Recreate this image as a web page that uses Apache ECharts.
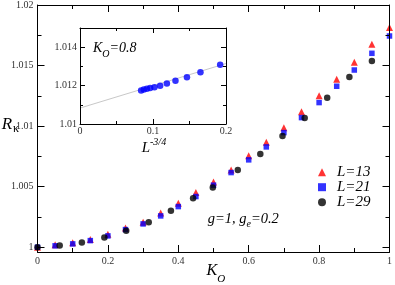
<!DOCTYPE html>
<html><head><meta charset="utf-8">
<script src="https://cdn.jsdelivr.net/npm/echarts@6/dist/echarts.min.js"></script>
<style>html,body{margin:0;padding:0;background:#fff}#c{width:395px;height:285px}</style>
</head><body><div id="c"></div>
<script>
// ---- main panel data ----
const kO_13 = [0,0.05,0.1,0.15,0.2,0.25,0.3,0.35,0.4,0.45,0.5,0.55,0.6,0.65,0.7,0.75,0.8,0.85,0.9,0.95,1.0];
const R_13  = [1.0,1.00019,1.00037,1.00064,1.00106,1.00159,1.00206,1.00283,1.00363,1.00451,1.00539,1.00638,1.00754,1.00867,1.00987,1.01119,1.01251,1.01387,1.01527,1.01676,1.01814];
const kO_21 = [0,0.05,0.1,0.15,0.2,0.25,0.3,0.35,0.4,0.45,0.5,0.55,0.6,0.65,0.7,0.75,0.8,0.85,0.9,0.95,1.0];
const R_21  = [1.0,1.00011,1.00027,1.00054,1.00093,1.00145,1.00192,1.00258,1.00335,1.00418,1.00512,1.00616,1.00721,1.00828,1.00946,1.0107,1.01194,1.01329,1.01463,1.01601,1.01744];
const kO_29 = [0,0.063,0.126,0.19,0.252,0.316,0.379,0.442,0.498,0.569,0.633,0.696,0.759,0.823,0.886,0.95];
const R_29  = [1.0,1.00013,1.00038,1.00079,1.00135,1.00206,1.003,1.00404,1.00492,1.00638,1.0077,1.00919,1.01067,1.01235,1.01405,1.01538];
const seriesNames = ['L=13','L=21','L=29'];
// ---- inset data (K_O = 0.8) ----
const invL = [0.0837,0.0874,0.0916,0.0961,0.102,0.1098,0.119,0.1308,0.1465,0.165,0.192];
const R_inset = [1.01175,1.0118,1.01183,1.01187,1.01192,1.01199,1.01211,1.01225,1.01244,1.01269,1.01308];
const fitX = [0, 0.2];
const fitY = [1.01083, 1.01315];
// ---- ticks ----
const mainXMajor = [0,0.2,0.4,0.6,0.8,1];
const mainXMinor = [0.1,0.3,0.5,0.7,0.9];
const mainYMajor = [1,1.005,1.01,1.015,1.02];
const mainYMinor = [1.0025,1.0075,1.0125,1.0175];
const insXMajor = [0,0.1,0.2];
const insXMinor = [0.05,0.15];
const insYMajor = [1.01,1.012,1.014];
const insYMinor = [1.011,1.013];

const serif = 'Liberation Serif';
const zip = (a,b) => a.map((v,i)=>[v,b[i]]);

function mkAxis(gi, pos, min, max, vals, len, showLabel, showLine, margin) {
  return {
    type:'value', gridIndex:gi, position:pos, min:min, max:max, z:10,
    axisLine:{show:showLine, onZero:false, lineStyle:{color:'#000', width:1}},
    axisTick:{show:true, inside:true, length:len, customValues:vals, lineStyle:{color:'#000', width:1}},
    axisLabel:{show:showLabel, customValues:vals, margin:margin||3, fontFamily:serif, fontSize:10, color:'#333',
               showMinLabel:true, showMaxLabel:true},
    splitLine:{show:false}, minorTick:{show:false}
  };
}

const xAxes = [
  mkAxis(0,'bottom',0,1,mainXMajor,7,true,true,4),
  mkAxis(0,'bottom',0,1,mainXMinor,4,false,false),
  mkAxis(0,'top',0,1,mainXMajor,7,false,true),
  mkAxis(0,'top',0,1,mainXMinor,4,false,false),
  mkAxis(1,'bottom',0,0.2,insXMajor,5,true,true,2),
  mkAxis(1,'bottom',0,0.2,insXMinor,3,false,false),
  mkAxis(1,'top',0,0.2,insXMajor,5,false,true),
  mkAxis(1,'top',0,0.2,insXMinor,3,false,false)
];
const yAxes = [
  mkAxis(0,'left',0.9996,1.02,mainYMajor,7,true,true,4),
  mkAxis(0,'left',0.9996,1.02,mainYMinor,4,false,false),
  mkAxis(0,'right',0.9996,1.02,mainYMajor,7,false,true),
  mkAxis(0,'right',0.9996,1.02,mainYMinor,4,false,false),
  mkAxis(1,'left',1.01,1.015,insYMajor,5,true,true,3),
  mkAxis(1,'left',1.01,1.015,insYMinor,3,false,false),
  mkAxis(1,'right',1.01,1.015,insYMajor,5,false,true),
  mkAxis(1,'right',1.01,1.015,insYMinor,3,false,false)
];

const mctx = document.createElement('canvas').getContext('2d');
function fontOf(size, italic){ return (italic?'italic ':'')+size+'px "'+serif+'"'; }
function widthOf(text, size, italic){ mctx.font = fontOf(size, italic); return mctx.measureText(text).width; }
function txt(text, x, baseline, size, italic) {
  return { type:'text', x:x, y:baseline - 0.35*size, z:100,
    style:{ text:text, font:fontOf(size, italic), fill:'#000',
            textAlign:'left', verticalAlign:'middle', textVerticalAlign:'middle' } };
}
function run(pieces, x0, baseline) {
  let x = x0; const out = [];
  pieces.forEach(p => { out.push(txt(p[0], x, baseline + p[2], p[1], p[3] !== false)); x += widthOf(p[0], p[1], p[3] !== false) + (p[4]||0); });
  return out;
}

const graphics = [].concat(
  run([['R',17,0,true,1],['κ',12,3,false]], 1.7, 130),
  run([['K',16,0],['O',11,6]], 206.5, 276.5),
  run([['K',14,0],['O',10,5],['=0.8',14,0]], 93, 53.3),
  run([['L',15,0],['-3/4',10,-7]], 141.7, 153.3),
  run([['g=1, g',14.5,0],['e',10,3.5],['=0.2',14.5,0]], 207.7, 224)
);

const chart = echarts.init(document.getElementById('c'), null, {renderer:'canvas'});
chart.setOption({
  animation:false,
  backgroundColor:'#fff',
  grid:[
    {left:37.5, top:5, width:354, height:247},
    {left:80, top:28, width:146, height:96}
  ],
  xAxis:xAxes,
  yAxis:yAxes,
  legend:{
    data:seriesNames, orient:'vertical', left:318, top:164.7, padding:0,
    itemWidth:8, itemHeight:8, itemGap:0,
    textStyle:{fontFamily:serif, fontStyle:'italic', fontSize:15, color:'#000', lineHeight:14, padding:[0,0,0,6]}
  },
  series:[
    {name:seriesNames[0], type:'scatter', xAxisIndex:0, yAxisIndex:0, symbol:'triangle', symbolSize:7,
     itemStyle:{color:'#ff0000'}, data:zip(kO_13,R_13), z:2},
    {name:seriesNames[1], type:'scatter', xAxisIndex:0, yAxisIndex:0, symbol:'rect', symbolSize:5.5,
     itemStyle:{color:'#0000ff'}, data:zip(kO_21,R_21), z:3},
    {name:seriesNames[2], type:'scatter', xAxisIndex:0, yAxisIndex:0, symbol:'circle', symbolSize:6.5,
     itemStyle:{color:'#000'}, data:zip(kO_29,R_29), z:4},
    {type:'line', xAxisIndex:4, yAxisIndex:4, data:zip(fitX,fitY), symbol:'none',
     lineStyle:{color:'#c8c8c8', width:1}, z:6},
    {type:'scatter', xAxisIndex:4, yAxisIndex:4, symbol:'circle', symbolSize:6.5,
     itemStyle:{color:'#0000ff'}, data:zip(invL,R_inset), z:7}
  ],
  graphic:graphics
});
</script></body></html>
